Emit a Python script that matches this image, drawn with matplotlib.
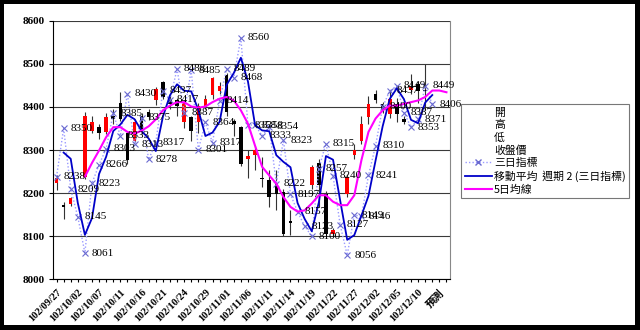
import numpy as np
import pandas as pd
import matplotlib
matplotlib.use("Agg")
import matplotlib.pyplot as plt
from matplotlib.lines import Line2D
from matplotlib.patches import Rectangle

nan = np.nan

# trading days (ROC calendar), last two slots are forecast
dates = ["102/09/27", "102/09/30",
         "102/10/01", "102/10/02", "102/10/03", "102/10/04", "102/10/07", "102/10/08",
         "102/10/09", "102/10/11", "102/10/14", "102/10/15", "102/10/16", "102/10/17",
         "102/10/18", "102/10/21", "102/10/22", "102/10/23", "102/10/24", "102/10/25",
         "102/10/28", "102/10/29", "102/10/30", "102/10/31",
         "102/11/01", "102/11/04", "102/11/05", "102/11/06", "102/11/07", "102/11/08",
         "102/11/11", "102/11/12", "102/11/13", "102/11/14", "102/11/15", "102/11/18",
         "102/11/19", "102/11/20", "102/11/21", "102/11/22", "102/11/25", "102/11/26",
         "102/11/27", "102/11/28", "102/11/29",
         "102/12/02", "102/12/03", "102/12/04", "102/12/05", "102/12/06", "102/12/09",
         "102/12/10", "102/12/11", "102/12/12",
         "預測", ""]

opens = [8224, 8172, 8174, nan, 8238, 8345, 8353, 8342, 8380, 8408, 8339, 8322, 8380, 8388,
         8415, 8457, 8418, 8415, 8365, 8376, 8365, 8400, 8427, 8438, 8473, 8368, 8353, 8278,
         8288, 8236, 8230, 8223, 8203, 8135, nan, nan, 8218, 8270, 8199, 8106, nan, 8199,
         8288, 8322, 8376, 8430, 8407, 8384, 8407, 8373, 8440, 8453, 8440, nan]
highs = [8241, 8180, 8192, nan, 8388, 8378, 8360, 8385, 8395, 8434, 8345, 8372, 8386, 8395,
         8447, 8460, 8425, 8420, 8415, 8380, 8410, 8428, 8470, 8458, 8478, 8372, 8356, 8299,
         8310, 8283, 8253, 8253, 8210, 8160, nan, nan, 8265, 8280, 8205, 8120, nan, 8245,
         8315, 8380, 8425, 8440, 8412, 8440, 8420, 8380, 8477, 8460, 8500, nan]
lows = [8208, 8139, 8170, nan, 8232, 8340, 8325, 8336, 8360, 8368, 8268, 8318, 8338, 8370,
        8405, 8418, 8395, 8380, 8350, 8322, 8340, 8395, 8418, 8430, 8380, 8333, 8262, 8234,
        8253, 8213, 8168, 8160, 8100, 8102, nan, nan, 8210, 8168, 8100, 8100, nan, 8190,
        8280, 8315, 8360, 8410, 8385, 8375, 8365, 8360, 8431, 8410, 8392, nan]
closes = [8236, 8168, 8188, nan, 8380, 8365, 8339, 8376, 8372, 8373, 8276, 8365, 8345, 8376,
          8441, 8423, 8407, 8403, 8411, 8345, 8403, 8419, 8466, 8449, 8388, 8360, 8268, 8285,
          8299, 8232, 8191, 8199, 8106, 8130, nan, nan, 8261, 8218, 8106, 8114, nan, 8238,
          8299, 8361, 8407, 8415, 8392, 8419, 8384, 8365, 8446, 8438, 8436, nan]

# 三日指標
three_day = [8238, 8350, 8209, 8145, 8061, 8223, 8266, 8303, 8385, 8333, 8430, 8313, 8375,
             8278, 8317, 8437, 8417, 8488, 8387, 8485, 8301, 8364, 8317, 8414, 8489, 8468,
             8560, 8358, 8358, 8333, 8354, 8222, 8323, 8197, 8157, 8123, 8100, 8257, 8315,
             8240, 8127, 8056, 8149, 8146, 8241, 8310, 8400, 8437, 8449, 8387, 8353, 8371,
             8449, 8406]

# 5日均線
ma5 = [nan, nan, nan, nan, 8238, 8270, 8299, 8330, 8353, 8353, 8342, 8338, 8345, 8355,
       8371, 8392, 8403, 8411, 8411, 8401, 8398, 8401, 8411, 8419, 8423, 8415, 8392, 8361,
       8310, 8261, 8241, 8222, 8191, 8168, 8157, 8160, 8176, 8195, 8195, 8180, 8172, 8172,
       8195, 8276, 8342, 8373, 8392, 8403, 8403, 8407, 8411, 8415, 8423, 8438, 8438, 8434]

legend_labels = ["開", "高", "低", "收盤價", "三日指標", "移動平均  週期 2 (三日指標)", "5日均線"]

cjk = ["Noto Sans CJK TC", "DejaVu Sans"]
num_font = "Liberation Serif"

fig = plt.figure(figsize=(6.4, 3.3), dpi=100, facecolor="black")
# white chart area inside the black frame
fig.patches.append(Rectangle((4 / 640, 5 / 330), 631 / 640, 321 / 330,
                             transform=fig.transFigure, facecolor="white",
                             edgecolor="none", zorder=-10))

ax = fig.add_axes([53 / 640, (330 - 279.3) / 330, 397 / 640, 258.6 / 330])
ax.set_facecolor("white")

n = len(dates)
x = np.arange(n)
o = np.array(opens, dtype=float)
h = np.array(highs, dtype=float)
l = np.array(lows, dtype=float)
c = np.array(closes, dtype=float)
xc = np.arange(len(o))

# candles
ok = ~np.isnan(o)
up = ok & (c >= o)
dn = ok & (c < o)
ax.vlines(xc[ok], l[ok], h[ok], color="#333333", lw=0.8, zorder=2)
body = np.maximum(np.abs(c - o), 2)
ax.bar(xc[up], body[up], bottom=o[up], width=0.5, color="#ff0000", zorder=3)
ax.bar(xc[dn], body[dn], bottom=c[dn], width=0.5, color="black", zorder=3)

# 三日指標 dotted with x markers
td = np.array(three_day, dtype=float)
xt = np.arange(len(td))
ax.plot(xt, td, ls=(0, (1, 1.5)), color="#9a9aff", lw=1.0, marker="x", ms=4,
        mew=0.8, mec="#6a6ad0", zorder=4)
for xi, v in zip(xt, td):
    ax.annotate(str(int(v)), (xi, v), xytext=(7, 0), textcoords="offset pixels",
                ha="left", va="center", fontsize=8, family=num_font, zorder=6)

# 2-period moving average trendline of 三日指標
ma2 = pd.Series(td).rolling(2).mean()
ax.plot(xt, ma2, color="#0000c8", lw=1.3, zorder=5)

# 5日均線
ax.plot(x, ma5, color="#ff00ff", lw=1.5, zorder=5)

ax.set_xlim(-0.5, n - 0.5)
ax.set_ylim(8000, 8600)
ax.set_yticks(np.arange(8000, 8601, 100))
ax.set_yticklabels([str(v) for v in range(8000, 8601, 100)], family=num_font,
                   fontsize=8, fontweight="bold")
ax.yaxis.grid(True, color="#3a3a3a", lw=0.8)
ax.set_axisbelow(True)
ax.tick_params(axis="y", length=3, pad=3)

ax.set_xticks(x)
ax.set_xticklabels([d if i % 3 == 0 else "" for i, d in enumerate(dates)],
                   rotation=45, ha="right", va="top", rotation_mode="anchor",
                   fontsize=7.5, fontweight="bold", family=[num_font, "Noto Sans CJK TC"])
ax.tick_params(axis="x", length=2, pad=4)

ax.spines["top"].set_visible(False)
ax.spines["right"].set_color("#888888")
ax.spines["left"].set_color("black")
ax.spines["bottom"].set_color("black")

handles = [Line2D([], [], color="none") for _ in range(4)]
handles.append(Line2D([], [], ls=(0, (1, 1.5)), color="#9a9aff", marker="x", ms=4,
                      mec="#6a6ad0", lw=1.0))
handles.append(Line2D([], [], color="#0000c8", lw=1.3))
handles.append(Line2D([], [], color="#ff00ff", lw=1.5))
leg = fig.legend(handles, legend_labels, loc="upper left",
                 bbox_to_anchor=(456 / 640, (330 - 99) / 330),
                 prop={"family": cjk, "size": 7.8}, frameon=True, fancybox=False,
                 edgecolor="#777777", framealpha=1, handlelength=2.5,
                 handletextpad=0.2, labelspacing=0.22, borderpad=0.3)
leg.get_frame().set_linewidth(0.8)

fig.savefig("out.png", dpi=100, facecolor="black")
